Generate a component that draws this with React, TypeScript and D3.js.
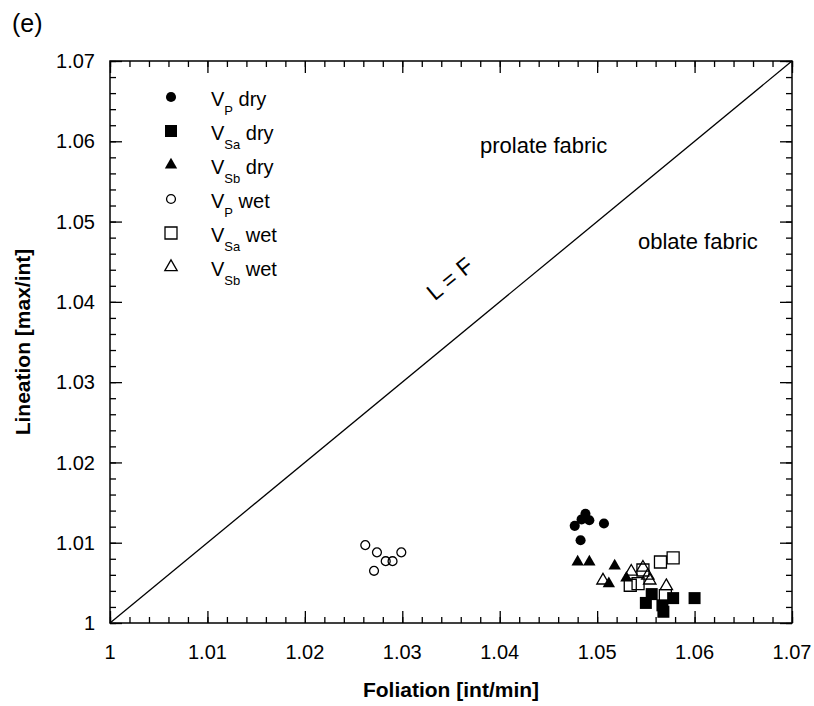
import React, { useRef, useEffect } from "react";
import * as d3 from "d3";

// Foliation (x) / Lineation (y) pairs
const vpDry = [
  [1.0477, 1.0121], [1.0483, 1.0103], [1.0488, 1.0136],
  [1.0492, 1.0128], [1.0484, 1.0129], [1.0507, 1.0124],
];
const vsaDry = [
  [1.0556, 1.0036], [1.055, 1.0025], [1.0567, 1.0022],
  [1.0568, 1.0014], [1.0578, 1.0031], [1.06, 1.0031],
];
const vsbDry = [
  [1.048, 1.0076], [1.0492, 1.0076], [1.0518, 1.0071],
  [1.0512, 1.0049], [1.053, 1.0056],
];
const vpWet = [
  [1.0262, 1.0097], [1.0274, 1.0088], [1.0271, 1.0065],
  [1.0283, 1.0077], [1.029, 1.0077], [1.0299, 1.0088],
];
const vsaWet = [
  [1.0565, 1.0076], [1.0578, 1.0081], [1.0547, 1.0066],
  [1.0534, 1.0047], [1.0542, 1.0049], [1.057, 1.0034],
];
const vsbWet = [
  [1.0506, 1.0053], [1.0535, 1.0064], [1.0547, 1.0069],
  [1.0552, 1.0059], [1.0554, 1.0053], [1.0571, 1.0046],
];

const tickValues = [1, 1.01, 1.02, 1.03, 1.04, 1.05, 1.06, 1.07];
const tickLabels = ["1", "1.01", "1.02", "1.03", "1.04", "1.05", "1.06", "1.07"];

const legendItems = [
  { sub: "P", name: "dry" },
  { sub: "Sa", name: "dry" },
  { sub: "Sb", name: "dry" },
  { sub: "P", name: "wet" },
  { sub: "Sa", name: "wet" },
  { sub: "Sb", name: "wet" },
];

const FONT = "Arial, 'Liberation Sans', Helvetica, sans-serif";

const Chart = () => {
  const svgRef = useRef<SVGSVGElement>(null);

  useEffect(() => {
    const left = 110, right = 792, top = 61, bottom = 623;
    const xScale = d3.scaleLinear().domain([1, 1.07]).range([left, right]);
    const yScale = d3.scaleLinear().domain([1, 1.07]).range([bottom, top]);

    const svg = d3.select(svgRef.current);
    svg.selectAll("*").remove();
    svg.attr("font-family", FONT);

    const minorVals = d3.range(0, 36).map((i) => 1 + i * 0.002).filter((v) => v <= 1.0701);

    // ticks on all four sides, pointing inward
    const addAxis = (axis: any, tx: number, ty: number) => {
      const g = svg.append("g").attr("transform", `translate(${tx},${ty})`).call(axis);
      g.select(".domain").remove();
      g.selectAll("text").remove();
      g.selectAll("line").attr("stroke", "#000").attr("stroke-width", 1.3);
    };
    addAxis(d3.axisBottom(xScale).tickValues(minorVals).tickSize(-6), 0, bottom);
    addAxis(d3.axisBottom(xScale).tickValues(tickValues).tickSize(-12), 0, bottom);
    addAxis(d3.axisTop(xScale).tickValues(minorVals).tickSize(-6), 0, top);
    addAxis(d3.axisTop(xScale).tickValues(tickValues).tickSize(-12), 0, top);
    addAxis(d3.axisLeft(yScale).tickValues(minorVals).tickSize(-6), left, 0);
    addAxis(d3.axisLeft(yScale).tickValues(tickValues).tickSize(-12), left, 0);
    addAxis(d3.axisRight(yScale).tickValues(minorVals).tickSize(-6), right, 0);
    addAxis(d3.axisRight(yScale).tickValues(tickValues).tickSize(-12), right, 0);

    // frame
    svg.append("rect")
      .attr("x", left).attr("y", top)
      .attr("width", right - left).attr("height", bottom - top)
      .attr("fill", "none").attr("stroke", "#000").attr("stroke-width", 1.5);

    // tick labels
    svg.append("g").selectAll("text").data(tickValues).enter().append("text")
      .attr("x", (d) => xScale(d)).attr("y", 659)
      .attr("text-anchor", "middle").attr("font-size", 20)
      .text((d, i) => tickLabels[i]);
    svg.append("g").selectAll("text").data(tickValues).enter().append("text")
      .attr("x", 95).attr("y", (d) => yScale(d)).attr("dy", "0.36em")
      .attr("text-anchor", "end").attr("font-size", 20)
      .text((d, i) => tickLabels[i]);

    // axis titles
    svg.append("text").attr("x", (left + right) / 2).attr("y", 697)
      .attr("text-anchor", "middle").attr("font-size", 21).attr("font-weight", "bold")
      .text("Foliation [int/min]");
    svg.append("text").attr("transform", `translate(30,${(top + bottom) / 2}) rotate(-90)`)
      .attr("text-anchor", "middle").attr("font-size", 21).attr("font-weight", "bold")
      .text("Lineation [max/int]");
    svg.append("text").attr("x", 12).attr("y", 32).attr("font-size", 25).text("(e)");

    // L = F line
    svg.append("line")
      .attr("x1", xScale(1)).attr("y1", yScale(1))
      .attr("x2", xScale(1.07)).attr("y2", yScale(1.07))
      .attr("stroke", "#000").attr("stroke-width", 1.3);
    const ang = (Math.atan2(yScale(1) - yScale(1.07), xScale(1.07) - xScale(1)) * 180) / Math.PI;
    svg.append("text").attr("transform", `translate(455,285) rotate(${-ang})`)
      .attr("text-anchor", "middle").attr("font-size", 23).text("L = F");
    svg.append("text").attr("x", 480).attr("y", 153).attr("font-size", 22).text("prolate fabric");
    svg.append("text").attr("x", 638).attr("y", 249).attr("font-size", 22).text("oblate fabric");

    // markers
    const circle = d3.symbol().type(d3.symbolCircle).size(80)();
    const circleOpen = d3.symbol().type(d3.symbolCircle).size(62)();
    const square = d3.symbol().type(d3.symbolSquare).size(144)();
    const tri = d3.symbol().type(d3.symbolTriangle).size(66)();
    const series = [
      { data: vsaWet, path: square, filled: false },
      { data: vsbWet, path: tri, filled: false },
      { data: vpWet, path: circleOpen, filled: false },
      { data: vsaDry, path: square, filled: true },
      { data: vsbDry, path: tri, filled: true },
      { data: vpDry, path: circle, filled: true },
    ];
    series.forEach((s) => {
      svg.append("g").selectAll("path").data(s.data).enter().append("path")
        .attr("d", s.path)
        .attr("transform", (d) => `translate(${xScale(d[0])},${yScale(d[1])})`)
        .attr("fill", s.filled ? "#000" : "none")
        .attr("stroke", "#000").attr("stroke-width", s.filled ? 0 : 1.3);
    });

    // legend
    const legendShapes = [circle, square, tri, circleOpen, square, tri];
    const leg = svg.append("g");
    legendItems.forEach((item, i) => {
      const cy = 97 + i * 34;
      const filled = i < 3;
      leg.append("path").attr("d", legendShapes[i])
        .attr("transform", `translate(171,${cy})`)
        .attr("fill", filled ? "#000" : "none")
        .attr("stroke", "#000").attr("stroke-width", filled ? 0 : 1.3);
      const t = leg.append("text").attr("x", 211).attr("y", cy + 9).attr("font-size", 20);
      t.append("tspan").text("V");
      t.append("tspan").attr("font-size", 13).attr("dy", 9).text(item.sub);
      t.append("tspan").attr("dy", -9).text(" " + item.name);
    });
  }, []);

  return (
    <svg
      ref={svgRef}
      width={814}
      height={706}
      style={{ position: "absolute", left: 0, top: 0, background: "#fff" }}
    />
  );
};

export default function App() {
  return <Chart />;
}
